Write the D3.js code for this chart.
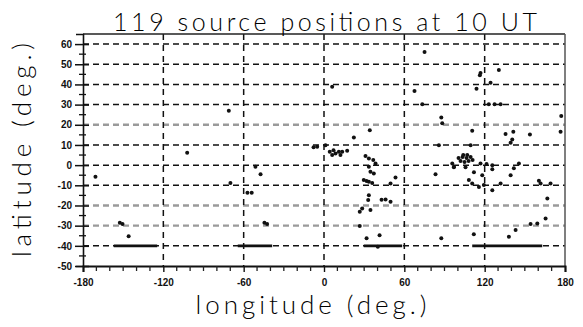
<!DOCTYPE html>
<html>
<head>
<meta charset="utf-8">
<script src="https://cdn.jsdelivr.net/npm/d3@7"></script>
<style>
  html, body { margin: 0; padding: 0; background: #fff; }
  svg { display: block; }
</style>
</head>
<body>
<svg id="chart" width="583" height="327"></svg>
<script>
// Source positions (longitude, latitude in degrees)
const sourceLon = [
  -170.7, -152.5, -150.5, -145.9, -102.2, -71.1, -51.2, -47.4, -69.9, -57.2, -54.0,
  -44.5, -42.5, -7.8, -5.1, 75.1, 6.1, 67.6, 73.4, 87.6, 88.3, 34.2, 22.3, 1.1,
  4.3, 6.1, 8.6, 11.1, 13.6, 17.3, 7.1, 12.3,
  31.0, 33.5, 36.8, 38.5, 33.5, 34.7, 37.2,
  29.7, 31.8, 33.5, 36.0, 49.7, 53.4,
  33.5, 33.0, 28.5, 26.7, 34.7, 43.0, 46.0, 49.7,
  26.7, 31.8, 41.5, 40.2,
  83.3, 87.6, 97.0,
  100.5, 103.5, 106.5, 109.5, 102.0, 105.0, 108.0, 111.0, 104.0, 107.0,
  95.8, 97.0, 105.7, 112.0, 118.2,
  116.9, 121.4, 125.7, 125.7, 145.6, 141.8, 139.4,
  108.2, 110.7, 115.7, 119.4, 125.7, 131.9,
  160.5, 161.8, 169.2, 166.8,
  165.5, 159.3, 154.3, 143.1, 111.9, 138.1,
  110.7, 135.6, 141.4, 153.8, 176.7, 140.6, 139.4,
  85.8, 109.5,
  130.6, 116.9, 116.4, 124.4, 113.9,
  123.1, 127.4, 131.9, 177.2
];
const sourceLat = [
  -5.8, -28.6, -29.2, -35.2, 6.1, 26.9, -0.8, -4.5, -8.8, -13.7, -13.7,
  -28.6, -29.2, 8.9, 9.1, 56.1, 38.8, 36.8, 30.2, 23.6, 20.7, 17.3, 13.7, 9.9,
  6.6, 5.0, 5.8, 6.6, 6.6, 7.1, 7.4, 5.0,
  4.5, 3.3, 2.5, 0.8, -0.8, -3.3, -4.1,
  -7.4, -7.9, -8.3, -8.8, -9.1, -6.1,
  -14.9, -17.3, -21.5, -23.1, -22.3, -17.1, -17.0, -18.2,
  -30.2, -36.3, -34.7, -40.5,
  -4.5, -36.3, -0.8,
  3.5, 4.0, 3.5, 4.0, 2.0, 1.5, 2.0, 2.5, 5.0, 5.0,
  0.8, -1.1, -1.1, -3.5, -5.0,
  0.8, 0.5, 0.0, -2.1, 0.8, -1.6, -5.0,
  -7.4, -9.1, -10.8, -9.9, -12.4, -9.1,
  -7.8, -9.1, -9.1, -16.5,
  -26.4, -28.9, -29.2, -32.2, -34.2, -35.5,
  17.0, 15.4, 16.5, 15.2, 16.5, 12.7, 11.1,
  9.9, 9.9,
  47.1, 45.7, 44.6, 40.8, 37.8,
  30.2, 30.2, 30.2, 24.3
];

// Solid bars along 40 S
const barLonStart = [-157, -64.4, 29.7, 110.7];
const barLonEnd   = [-124.6, -38.7, 58.4, 163];
const barLat      = [-40, -40, -40, -40];

// Axes
const lonTicks = [-180, -120, -60, 0, 60, 120, 180];
const lonTickLabels = ["-180", "-120", "-60", "0", "60", "120", "180"];
const latTicks = [60, 50, 40, 30, 20, 10, 0, -10, -20, -30, -40, -50];
const latTickLabels = ["60", "50", "40", "30", "20", "10", "0", "-10", "-20", "-30", "-40", "-50"];
const greyLatLines = [20, -20, -30];

const titleText = "119 source positions at 10 UT";
const xTitle = "longitude (deg.)";
const yTitle = "latitude (deg.)";

const svg = d3.select("#chart");
const x = d3.scaleLinear().domain([-180, 180]).range([83, 565]);
const y = d3.scaleLinear().domain([-50, 65]).range([266, 34]);

const labelFont = "Lato, 'Open Sans', 'DejaVu Sans', sans-serif";
const tickFont = "'Liberation Sans', Arial, sans-serif";

// horizontal grid
svg.append("g").selectAll("line")
  .data(latTicks.filter(d => d > -50))
  .join("line")
  .attr("x1", x(-180)).attr("x2", x(180))
  .attr("y1", d => y(d)).attr("y2", d => y(d))
  .attr("stroke", d => greyLatLines.includes(d) ? "#9a9a9a" : "#111")
  .attr("stroke-width", d => greyLatLines.includes(d) ? 2.4 : 1.5)
  .attr("stroke-dasharray", "6,4");

// vertical grid
svg.append("g").selectAll("line")
  .data(lonTicks.filter(d => d > -180 && d < 180))
  .join("line")
  .attr("x1", d => x(d)).attr("x2", d => x(d))
  .attr("y1", y(65)).attr("y2", y(-50))
  .attr("stroke", "#111")
  .attr("stroke-width", 1.5)
  .attr("stroke-dasharray", "6,5");

// frame: top and right
svg.append("line")
  .attr("x1", x(-180)).attr("x2", x(180)).attr("y1", y(65)).attr("y2", y(65))
  .attr("stroke", "#222").attr("stroke-width", 1.6);
svg.append("line")
  .attr("x1", x(180)).attr("x2", x(180)).attr("y1", y(65)).attr("y2", y(-50))
  .attr("stroke", "#555").attr("stroke-width", 1.5);

// left axis
const yAxis = d3.axisLeft(y)
  .tickValues(latTicks)
  .tickFormat((d, i) => latTickLabels[i])
  .tickSize(7)
  .tickPadding(4);
const gy = svg.append("g").attr("transform", `translate(${x(-180)},0)`).call(yAxis);
gy.select(".domain").attr("stroke", "#111").attr("stroke-width", 1.6);
gy.selectAll(".tick line").attr("x2", -8).attr("x1", 6).attr("stroke", "#111").attr("stroke-width", 1.5);
gy.selectAll(".tick text")
  .attr("font-family", tickFont).attr("font-weight", "bold").attr("font-size", 10)
  .attr("fill", "#111");
// minor latitude ticks
svg.append("g").selectAll("line")
  .data(d3.range(-45, 65, 10))
  .join("line")
  .attr("x1", x(-180) - 4).attr("x2", x(-180) + 3)
  .attr("y1", d => y(d)).attr("y2", d => y(d))
  .attr("stroke", "#111").attr("stroke-width", 1.3);

// bottom axis
const xAxis = d3.axisBottom(x)
  .tickValues(lonTicks)
  .tickFormat((d, i) => lonTickLabels[i])
  .tickSize(6)
  .tickPadding(7);
const gx = svg.append("g").attr("transform", `translate(0,${y(-50)})`).call(xAxis);
gx.select(".domain").attr("stroke", "#111").attr("stroke-width", 2);
gx.selectAll(".tick line").attr("stroke", "#111").attr("stroke-width", 1.4);
gx.selectAll(".tick text")
  .attr("font-family", tickFont).attr("font-weight", "bold").attr("font-size", 10)
  .attr("fill", "#111");
// minor longitude ticks
svg.append("g").selectAll("line")
  .data(d3.range(-170, 180, 10).filter(d => d % 60 !== 0))
  .join("line")
  .attr("x1", d => x(d)).attr("x2", d => x(d))
  .attr("y1", y(-50)).attr("y2", y(-50) + 5)
  .attr("stroke", "#222").attr("stroke-width", 1.3);

// bars along 40 S
svg.append("g").selectAll("line")
  .data(barLat.map((la, i) => ({ la, a: barLonStart[i], b: barLonEnd[i] })))
  .join("line")
  .attr("x1", d => x(d.a)).attr("x2", d => x(d.b))
  .attr("y1", d => y(d.la)).attr("y2", d => y(d.la))
  .attr("stroke", "#111").attr("stroke-width", 2.6);

// source positions
svg.append("g").selectAll("circle")
  .data(sourceLon.map((lo, i) => [lo, sourceLat[i]]))
  .join("circle")
  .attr("cx", d => x(d[0]))
  .attr("cy", d => y(d[1]))
  .attr("r", 2)
  .attr("fill", "#111");

// titles
svg.append("text")
  .attr("x", 325).attr("y", 31)
  .attr("text-anchor", "middle")
  .attr("font-family", labelFont).attr("font-size", 25).attr("font-weight", 300)
  .attr("textLength", 424).attr("lengthAdjust", "spacing")
  .attr("fill", "#000")
  .text(titleText);

svg.append("text")
  .attr("x", 311).attr("y", 314)
  .attr("text-anchor", "middle")
  .attr("font-family", labelFont).attr("font-size", 26).attr("font-weight", 300)
  .attr("textLength", 231).attr("lengthAdjust", "spacing")
  .attr("fill", "#000")
  .text(xTitle);

svg.append("text")
  .attr("transform", "translate(31,150) rotate(-90)")
  .attr("text-anchor", "middle")
  .attr("font-family", labelFont).attr("font-size", 26).attr("font-weight", 300)
  .attr("textLength", 214).attr("lengthAdjust", "spacing")
  .attr("fill", "#000")
  .text(yTitle);
</script>
</body>
</html>
